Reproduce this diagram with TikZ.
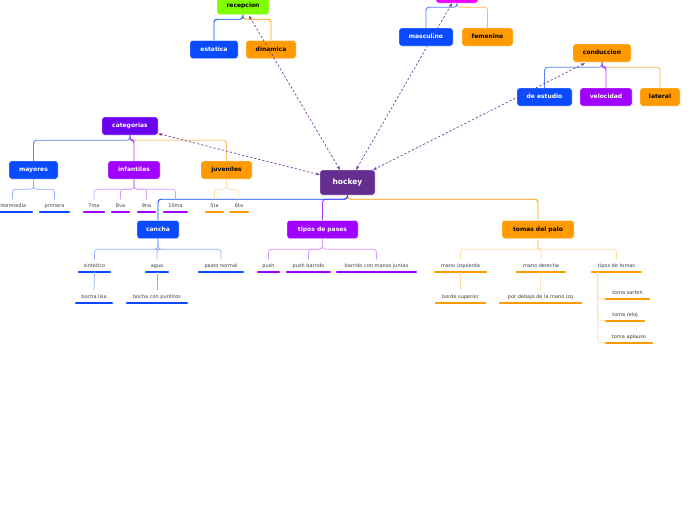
\documentclass[tikz,border=0pt]{standalone}
\usepackage{fontspec}
\setmainfont{DejaVu Sans}
\usetikzlibrary{arrows.meta,calc}
\definecolor{cblue}{HTML}{0A4BFF}
\definecolor{corange}{HTML}{FF9A00}
\definecolor{cpurple}{HTML}{A000FF}
\definecolor{cviolet}{HTML}{6A00F2}
\definecolor{chockey}{HTML}{662D91}
\definecolor{cgreen}{HTML}{7FFF00}
\definecolor{cmagenta}{HTML}{F000FF}
\definecolor{cdash}{HTML}{7A3AA8}
\tikzset{
 box/.style={rounded corners=2.5pt, draw=white, line width=0.4pt, font=\fontsize{6}{7}\selectfont\bfseries, minimum height=18pt, inner xsep=0pt, text height=4.5pt, text depth=1.2pt, align=center},
 wbox/.style={box, fill=#1, text=white},
 kbox/.style={box, fill=#1, text=black},
 leaf/.style={font=\fontsize{5}{6}\selectfont, text=black!75, text height=4pt, text depth=1pt, inner ysep=3.5pt, inner xsep=0pt},
 ul/.style={line width=2.4pt, line cap=round, draw=#1},
 link/.style={draw=#1, line width=0.9pt, rounded corners=3pt},
 lite/.style={draw=#1, line width=0.7pt, rounded corners=3pt},
 rel/.style={draw=cdash, line width=0.7pt, dash pattern=on 2.2pt off 2pt, {Stealth[length=4pt,width=3pt]}-{Stealth[length=4pt,width=3pt]}},
}
\newcommand{\uline}[2]{\draw[ul=#2] ($(#1.south west)+(1.2,0)$) -- ($(#1.south east)+(-1.2,0)$);}
\begin{document}
\begin{tikzpicture}[x=1pt,y=-1pt]
\useasboundingbox (0,0) rectangle (696,520);
\fill[white] (0,0) rectangle (696,520);
\clip (0,0) rectangle (696,520);

% main nodes
\node[wbox=chockey, minimum width=55pt, minimum height=25pt, font=\fontsize{7.5}{9}\selectfont\bfseries] (hockey) at (347.5,182.5) {hockey};
\node[kbox=cgreen, minimum width=52pt, minimum height=17pt] (recepcion) at (243,6) {recepcion};
\node[wbox=cblue, minimum width=48pt] (estatica) at (214,49.5) {estatica};
\node[kbox=corange, minimum width=50pt] (dinamica) at (271,49.5) {dinamica};
\node[kbox=cmagenta, minimum width=42pt] (genero) at (457,-6) {};
\node[wbox=cblue, minimum width=54pt] (masculino) at (426,37) {masculino};
\node[kbox=corange, minimum width=51pt] (femenino) at (487.5,37) {femenino};
\node[kbox=corange, minimum width=58pt] (conduccion) at (602,53) {conduccion};
\node[wbox=cblue, minimum width=55pt] (estudio) at (544.5,97) {de estudio};
\node[wbox=cpurple, minimum width=52pt] (velocidad) at (606,97) {velocidad};
\node[kbox=corange, minimum width=40pt] (lateral) at (660,97) {lateral};
\node[wbox=cviolet, minimum width=56pt] (categorias) at (130,126) {categorias};
\node[wbox=cblue, minimum width=49pt] (mayores) at (33.5,170) {mayores};
\node[wbox=cpurple, minimum width=52pt] (infantiles) at (134,170) {infantiles};
\node[kbox=corange, minimum width=51pt] (juveniles) at (226.5,170) {juveniles};
\node[wbox=cblue, minimum width=42pt] (cancha) at (158,229.5) {cancha};
\node[wbox=cpurple, minimum width=71pt] (pases) at (322.5,229.5) {tipos de pases};
\node[kbox=corange, minimum width=72pt] (tomas) at (538,229.5) {tomas del palo};

% leaves
\node[leaf, minimum width=41pt] (intermedia) at (12.5,205.5) {intermedia};
\node[leaf, minimum width=31pt] (primera) at (54.5,205.5) {primera};
\node[leaf, minimum width=22pt] (septima) at (94,205.5) {7ma};
\node[leaf, minimum width=19pt] (octava) at (120.5,205.5) {8va};
\node[leaf, minimum width=19pt] (novena) at (146.5,205.5) {9na};
\node[leaf, minimum width=25pt] (decima) at (175.5,205.5) {10ma};
\node[leaf, minimum width=19pt] (quinta) at (214.5,205.5) {5ta};
\node[leaf, minimum width=20pt] (sexta) at (239,205.5) {6ta};
\node[leaf, minimum width=33pt] (sintetico) at (94.5,265.5) {sintetico};
\node[leaf, minimum width=24pt] (agua) at (157,265.5) {agua};
\node[leaf, minimum width=46pt] (pasto) at (221,265.5) {pasto normal};
\node[leaf, minimum width=38pt] (lisa) at (94,296.5) {bocha lisa};
\node[leaf, minimum width=62pt] (puntitos) at (157,296.5) {bocha con puntitos};
\node[leaf, minimum width=23pt] (push) at (268.5,265.5) {push};
\node[leaf, minimum width=45pt] (pushb) at (308.5,265.5) {push barrido};
\node[leaf, minimum width=81pt] (barrido) at (376.5,265.5) {barrido con manos juntas};
\node[leaf, minimum width=53pt] (izq) at (460.5,265.5) {mano izquierda};
\node[leaf, minimum width=50pt] (der) at (541,265.5) {mano derecha};
\node[leaf, minimum width=51pt] (ttomas) at (616.5,265.5) {tipos de tomas};
\node[leaf, minimum width=51pt] (borde) at (460.5,296.5) {borde superior};
\node[leaf, minimum width=83pt] (debajo) at (540.5,296.5) {por debajo de la mano izq};
\node[leaf, minimum width=45pt] (sarten) at (627.5,292.5) {toma sarten};
\node[leaf, minimum width=40pt] (reloj) at (625,314.5) {toma reloj};
\node[leaf, minimum width=48pt] (aplauso) at (629,336.5) {toma aplauso};

% underlines
\foreach \n in {intermedia,primera,sintetico,agua,pasto,lisa,puntitos}{\uline{\n}{cblue}}
\foreach \n in {septima,octava,novena,decima,push,pushb,barrido}{\uline{\n}{cpurple}}
\foreach \n in {quinta,sexta,izq,der,ttomas,borde,debajo,sarten,reloj,aplauso}{\uline{\n}{corange}}

% first level links
\draw[link=corange] (recepcion.south) -- ++(0,4.5) -| (dinamica.north);
\draw[link=cblue] (recepcion.south) -- ++(0,4.5) -| (estatica.north);
\draw[link=corange!70] (genero.south) -- ++(0,4) -| (femenino.north);
\draw[link=cblue!70] (genero.south) -- ++(0,4) -| (masculino.north);
\draw[link=corange!70] (conduccion.south) -- ++(0,5) -| (lateral.north);
\draw[link=cpurple!80] (conduccion.south) -- ++(0,5) -| (velocidad.north);
\draw[link=cblue!70] (conduccion.south) -- ++(0,5) -| (estudio.north);
\draw[link=corange!60] (categorias.south) -- ++(0,5) -| (juveniles.north);
\draw[link=cpurple!80] (categorias.south) -- ++(0,5) -| (infantiles.north);
\draw[link=cblue!70] (categorias.south) -- ++(0,5) -| (mayores.north);
\draw[link=corange] (hockey.south) -- ++(0,4) -| (tomas.north);
\draw[link=cpurple!80] (hockey.south) -- ++(0,4) -| (pases.north);
\draw[link=cblue] (hockey.south) -- ++(0,4) -| (cancha.north);

% leaf links
\foreach \n in {intermedia,primera}{\draw[lite=cblue!45] (mayores.south) -- ++(0,10) -| (\n.north);}
\foreach \n in {septima,octava,novena,decima}{\draw[lite=cpurple!40] (infantiles.south) -- ++(0,10) -| (\n.north);}
\foreach \n in {quinta,sexta}{\draw[lite=corange!35] (juveniles.south) -- ++(0,10) -| (\n.north);}
\foreach \n in {sintetico,agua,pasto}{\draw[lite=cblue!45] (cancha.south) -- ++(0,10.5) -| (\n.north);}
\foreach \n in {push,pushb,barrido}{\draw[lite=cpurple!40] (pases.south) -- ++(0,10.5) -| (\n.north);}
\foreach \n in {izq,der,ttomas}{\draw[lite=corange!35] (tomas.south) -- ++(0,10.5) -| (\n.north);}
\draw[lite=cblue!45] (sintetico.south) -- (lisa.north);
\draw[lite=cblue!45] (agua.south) -- (puntitos.north);
\draw[lite=corange!35] (izq.south) -- (borde.north);
\draw[lite=corange!35] (der.south) -- (debajo.north);
\foreach \n in {sarten,reloj,aplauso}{\draw[lite=corange!35] ($(ttomas.south west)+(7,0)$) |- (\n.south west);}

% relations
\draw[rel] ($(categorias.south east)+(0,-1.5)$) -- ($(hockey.north west)+(0,5)$);
\draw[rel] ($(recepcion.south)+(6,1)$) -- ($(hockey.north)+(-7.5,0)$);
\draw[rel] ($(genero.south)+(-5,0)$) -- ($(hockey.north)+(8.5,0)$);
\draw[rel] ($(conduccion.south west)+(12,1)$) -- ($(hockey.north east)+(-2,0)$);
\end{tikzpicture}
\end{document}
